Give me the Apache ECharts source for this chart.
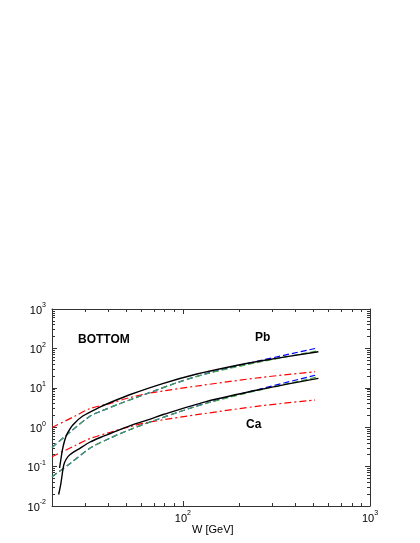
<!DOCTYPE html>
<html>
<head>
<meta charset="utf-8">
<script src="https://cdn.jsdelivr.net/npm/echarts@6/dist/echarts.min.js"></script>
<style>
html,body{margin:0;padding:0;background:#fff;}
#chart{width:420px;height:543px;}
</style>
</head>
<body>
<div id="chart"></div>
<script>
// ---- data (W in GeV, cross section values) ----
const wPbBlack = [21.96, 22.28, 22.79, 23.41, 24.05, 25.84, 29.21, 36.22, 41.0, 52.4, 78.85, 118.9, 179.1, 258.9, 530];
const pbBlack  = [0.092, 0.147, 0.28, 0.473, 0.67, 1.14, 1.92, 3.26, 4.24, 6.76, 13.0, 22.4, 34.3, 47.9, 82.5];
const wPbBlue  = [20, 25.0, 32.0, 36.2, 46.3, 67.0, 96.8, 140, 258.9, 509];
const pbBlue   = [0.305, 0.755, 1.92, 2.50, 4.0, 7.64, 14.4, 24.3, 49.0, 99.4];
const wPbGreen = [20, 25.0, 32.0, 36.2, 46.3, 67.0, 96.8, 140, 258.9, 530];
const pbGreen  = [0.305, 0.755, 1.92, 2.50, 4.0, 7.64, 14.4, 24.0, 45.2, 87.5];
const wPbRed   = [20, 26.6, 32.0, 41.0, 52.4, 67.0, 123.8, 258.9, 509];
const pbRed    = [0.98, 1.92, 2.98, 4.04, 5.68, 7.38, 11.4, 18.2, 25.6];

const wCaBlack = [21.7, 22.28, 23.12, 23.85, 25.0, 28.3, 32.0, 36.2, 41.0, 52.4, 67.0, 78.6, 131.7, 258.9, 530];
const caBlack  = [0.0196, 0.0361, 0.110, 0.156, 0.203, 0.296, 0.421, 0.548, 0.692, 1.10, 1.61, 2.10, 4.41, 9.06, 17.4];
const wCaBlue  = [20, 25.0, 32.0, 41.0, 52.4, 67.0, 96.8, 140, 258.9, 509];
const caBlue   = [0.0555, 0.120, 0.296, 0.532, 0.875, 1.36, 2.50, 4.36, 9.33, 20.8];
const wCaGreen = [20, 25.0, 32.0, 41.0, 52.4, 67.0, 96.8, 140, 258.9, 530];
const caGreen  = [0.0555, 0.120, 0.296, 0.532, 0.875, 1.36, 2.50, 4.30, 8.8, 19.1];
const wCaRed   = [20, 26.6, 32.0, 41.0, 52.4, 67.0, 123.8, 258.9, 509];
const caRed    = [0.178, 0.343, 0.516, 0.743, 1.04, 1.36, 2.14, 3.47, 4.90];

const xMajor = [100, 1000];
const xMinor = [30, 40, 50, 60, 70, 80, 90, 200, 300, 400, 500, 600, 700, 800, 900];
const yMajor = [0.01, 0.1, 1, 10, 100, 1000];
const yMinor = [];
[0.01, 0.1, 1, 10, 100].forEach(d => { for (let k = 2; k <= 9; k++) yMinor.push(+(d * k).toPrecision(3)); });

const labelTexts = { title: 'BOTTOM', pb: 'Pb', ca: 'Ca', xName: 'W [GeV]' };

// ---- chart ----
const FONT = '"Liberation Sans", Arial, Helvetica, sans-serif';
const AX = '#333';
const pairs = (w, v) => w.map((x, i) => [x, v[i]]);
const supFmt = v => {
  const n = Math.round(Math.log10(v));
  return '{b|10}{s|' + n + '}';
};
const rich = {
  b: { fontSize: 11, fontFamily: FONT, color: '#000', lineHeight: 14, verticalAlign: 'bottom' },
  s: { fontSize: 7, fontFamily: FONT, color: '#000', lineHeight: 9, verticalAlign: 'top' }
};

function xAx(pos, ticks, len, labels, line) {
  return {
    type: 'log', logBase: 10, min: 20, max: 1000, position: pos, gridIndex: 0,
    axisLine: { show: line, onZero: false, lineStyle: { color: AX, width: 1 } },
    axisTick: { show: true, inside: true, length: len, customValues: ticks, lineStyle: { color: AX, width: 1 } },
    axisLabel: labels ? { show: true, customValues: xMajor, margin: 4, formatter: supFmt, rich: rich } : { show: false },
    splitLine: { show: false }, minorTick: { show: false }
  };
}
function yAx(pos, ticks, len, labels, line) {
  return {
    type: 'log', logBase: 10, min: 0.01, max: 1000, position: pos, gridIndex: 0,
    axisLine: { show: line, onZero: false, lineStyle: { color: AX, width: 1 } },
    axisTick: { show: true, inside: true, length: len, customValues: ticks, lineStyle: { color: AX, width: 1 } },
    axisLabel: labels ? { show: true, customValues: yMajor, margin: 6, formatter: supFmt, rich: rich } : { show: false },
    splitLine: { show: false }, minorTick: { show: false }
  };
}

function ser(name, data, color, width, dash, z) {
  return {
    name: name, type: 'line', xAxisIndex: 0, yAxisIndex: 0, data: data,
    showSymbol: false, symbol: 'none', smooth: 0.3, z: z, animation: false,
    lineStyle: { color: color, width: width, type: dash }
  };
}

const chart = echarts.init(document.getElementById('chart'), null, { renderer: 'canvas' });
chart.setOption({
  backgroundColor: '#fff',
  animation: false,
  grid: { left: 52, right: 50, top: 309, bottom: 37, containLabel: false },
  xAxis: [
    xAx('bottom', xMajor, 5, true, true),
    xAx('bottom', xMinor, 3, false, false),
    xAx('top', xMajor, 5, false, true),
    xAx('top', xMinor, 3, false, false)
  ],
  yAxis: [
    yAx('left', yMajor, 5, true, true),
    yAx('left', yMinor, 3, false, false),
    yAx('right', yMajor, 5, false, true),
    yAx('right', yMinor, 3, false, false)
  ],
  series: [
    ser('Pb red', pairs(wPbRed, pbRed), '#ff0000', 1.2, [7, 3, 2, 3], 2),
    ser('Ca red', pairs(wCaRed, caRed), '#ff0000', 1.2, [7, 3, 2, 3], 2),
    ser('Pb blue', pairs(wPbBlue, pbBlue), '#0000ff', 1.2, [6, 3], 3),
    ser('Ca blue', pairs(wCaBlue, caBlue), '#0000ff', 1.2, [6, 3], 3),
    ser('Pb green', pairs(wPbGreen, pbGreen), '#44a844', 1.2, [6, 3], 4),
    ser('Ca green', pairs(wCaGreen, caGreen), '#44a844', 1.2, [6, 3], 4),
    ser('Pb black', pairs(wPbBlack, pbBlack), '#000000', 1.4, 'solid', 5),
    ser('Ca black', pairs(wCaBlack, caBlack), '#000000', 1.4, 'solid', 5)
  ],
  graphic: [
    { type: 'text', left: 78, top: 334, style: { text: labelTexts.title, font: 'bold 12px ' + FONT, fill: '#000' } },
    { type: 'text', left: 255, top: 332, style: { text: labelTexts.pb, font: 'bold 12px ' + FONT, fill: '#000' } },
    { type: 'text', left: 246, top: 419, style: { text: labelTexts.ca, font: 'bold 12px ' + FONT, fill: '#000' } },
    { type: 'text', left: 192, top: 524, style: { text: labelTexts.xName, font: '11px ' + FONT, fill: '#000' } }
  ]
});
</script>
</body>
</html>
